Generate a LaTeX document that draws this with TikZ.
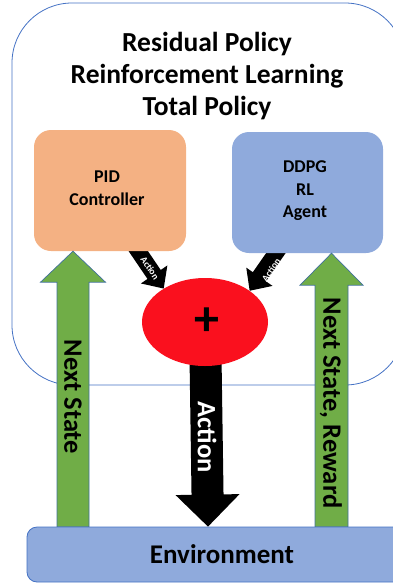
\documentclass[tikz,border=0pt]{standalone}
\usepackage{fontspec}
\setmainfont{Carlito}
\usetikzlibrary{shapes.geometric,calc}
\definecolor{orangebox}{HTML}{F4B183}
\definecolor{bluebox}{HTML}{8FAADC}
\definecolor{greenarr}{HTML}{70AD47}
\definecolor{outl}{HTML}{4472C4}
\definecolor{outlb}{HTML}{41719C}
\definecolor{redell}{HTML}{FA101E}
% #1 from, #2 to, #3 shaft width, #4 head width, #5 head length, #6 style
\newcommand\blockarrow[6]{%
  \path[#6] let \p1=(#1), \p2=(#2),
    \n1={atan2(\y2-\y1,\x2-\x1)},
    \n2={veclen(\x2-\x1,\y2-\y1)}
  in ($(\p1)+({\n1+90}:{#3*0.5pt})$)
  -- ($(\p1)+({\n1}:{\n2*1pt-#5*1pt})+({\n1+90}:{#3*0.5pt})$)
  -- ($(\p1)+({\n1}:{\n2*1pt-#5*1pt})+({\n1+90}:{#4*0.5pt})$)
  -- (\p2)
  -- ($(\p1)+({\n1}:{\n2*1pt-#5*1pt})+({\n1-90}:{#4*0.5pt})$)
  -- ($(\p1)+({\n1}:{\n2*1pt-#5*1pt})+({\n1-90}:{#3*0.5pt})$)
  -- ($(\p1)+({\n1-90}:{#3*0.5pt})$) -- cycle;}
\begin{document}
\begin{tikzpicture}[x=1pt,y=-1pt,
  boxtext/.style={font=\fontsize{18}{22.5}\selectfont\bfseries, align=center},
  bigtext/.style={font=\fontsize{27.5}{32}\selectfont\bfseries, align=center},
  agentbox/.style={rectangle, rounded corners=17pt, minimum width=152pt, minimum height=121pt, inner sep=0pt},
  greenblock/.style={fill=greenarr, draw=outlb, line width=0.7pt},
  blackblock/.style={fill=black},
  smalllabel/.style={text=white, font=\fontsize{9.5}{9.5}\selectfont\bfseries, inner sep=0pt},
  arrowlabel/.style={font=\fontsize{26.5}{26.5}\selectfont\bfseries, inner sep=0pt, rotate=-90}]
\useasboundingbox (0,0) rectangle (393,584);
\begin{scope}
\clip (0,0) rectangle (393,584);
% container
\node[rectangle, draw=outl, line width=0.8pt, rounded corners=60pt,
  minimum width=393pt, minimum height=382pt, inner sep=0pt] (policy) at (208.5,194) {};
\node[bigtext] (title) at (207,76) {Residual Policy\\Reinforcement Learning\\Total Policy};
% ellipse and coordinates for small arrows
\path (205,322) node[ellipse, minimum width=126pt, minimum height=88pt, inner sep=0pt] (sum) {};
\coordinate (la) at (128,236);
\coordinate (ra) at (285,240);
\blockarrow{la}{sum.141}{16}{32}{17}{blackblock}
\blockarrow{ra}{sum.35}{16}{32}{17}{blackblock}
% agent boxes
\node[agentbox, fill=orangebox] (pid) at (110,190.5) {};
\node[boxtext] (pidtext) at (107,188) {PID\\Controller};
\node[agentbox, fill=bluebox, minimum width=151pt] (ddpg) at (307.5,192.5) {};
\node[boxtext] (ddpgtext) at (305,191) {DDPG\\RL\\Agent};
% environment
\node[rectangle, rounded corners=10pt, fill=bluebox, draw=outl, line width=0.8pt,
  minimum width=390pt, minimum height=55pt, inner sep=0pt] (env) at (222,554.5) {};
\node[font=\fontsize{27}{27}\selectfont\bfseries] (envtext) at (222,554) {Environment};
% main action arrow
\coordinate (ax) at (208,0);
\blockarrow{sum.center}{env.north -| ax}{32}{64}{32}{blackblock}
\node[ellipse, fill=redell, minimum width=126pt, minimum height=88pt, inner sep=0pt] (sumfill) at (sum.center) {};
\node[font=\fontsize{50}{50}\selectfont\bfseries, inner sep=0pt] (plus) at (207,322) {+};
% green arrows
\coordinate (lx) at (73,0);
\coordinate (rx) at (331.5,0);
\blockarrow{env.north -| lx}{pid.south -| lx}{32}{65}{31}{greenblock}
\blockarrow{env.north -| rx}{ddpg.south -| rx}{33}{63}{32}{greenblock}
% labels
\node[arrowlabel] (nslabel) at (73,397) {Next State};
\node[arrowlabel] (nsrlabel) at (331,403) {Next State, Reward};
\node[arrowlabel, text=white] (actlabel) at (207,437) {Action};
\node[smalllabel, rotate=-56.3] (la1) at (150,268) {Action};
\node[smalllabel, rotate=55.5] (la2) at (271,270) {Action};
\end{scope}
\end{tikzpicture}
\end{document}
